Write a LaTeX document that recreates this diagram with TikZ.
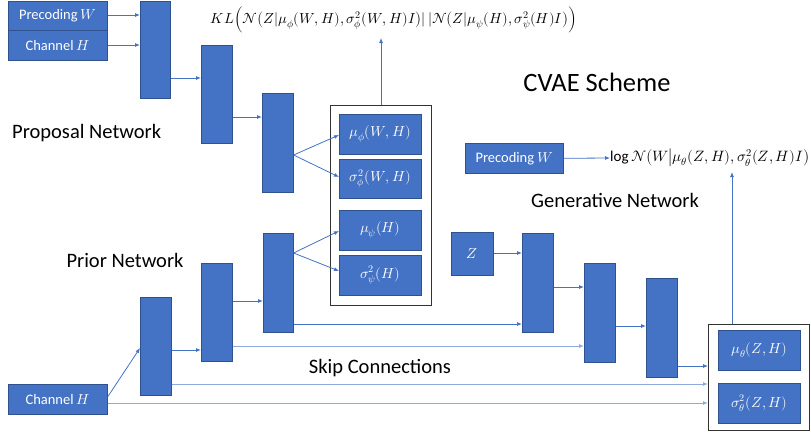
\documentclass[tikz,border=0pt]{standalone}
\usepackage{amsmath}
\usepackage{unicode-math}
\setmainfont{Carlito}
\setmathfont{Latin Modern Math}
\usetikzlibrary{arrows.meta,calc}
\definecolor{blu}{HTML}{4472C4}
\definecolor{bdr}{HTML}{2F528F}
\definecolor{lineb}{HTML}{4472C4}
\definecolor{lightb}{HTML}{8FAADC}
\begin{document}
\begin{tikzpicture}[x=1pt,y=-1pt,
  blk/.style={draw=bdr, fill=blu, line width=0.6pt, inner sep=0pt, anchor=north west, text=white, font=\fontsize{14.5}{16}\selectfont},
  outer/.style={draw=black!80, line width=1.1pt, inner sep=0pt, anchor=north west},
  arr/.style={draw=lineb, line width=0.8pt, -{Latex[length=5pt,width=4pt]}},
  skip/.style={draw=lightb, line width=1pt, -{Latex[length=5pt,width=4pt]}},
  lbl/.style={font=\fontsize{20.5}{24}\selectfont, inner sep=0pt},
  frm/.style={font=\fontsize{14.5}{17}\selectfont, inner sep=0pt}
]
\useasboundingbox (0,0) rectangle (811,431);

% boxes
\node[blk, minimum width=99pt, minimum height=29pt] (pw) at (8,1) {Precoding $W$};
\node[blk, minimum width=99pt, minimum height=30pt] (ch1) at (8,30) {Channel $H$};
\node[blk, minimum width=30pt, minimum height=97pt] (p1) at (140,1) {};
\node[blk, minimum width=31pt, minimum height=98pt] (p2) at (201,45) {};
\node[blk, minimum width=31pt, minimum height=99pt] (p3) at (262,93) {};
\node[outer, minimum width=101pt, minimum height=200pt] (oa) at (330,105) {};
\node[blk, minimum width=82pt, minimum height=40pt] (muphi) at (339,114) {$\mu_{\phi}(W,H)$};
\node[blk, minimum width=82pt, minimum height=39pt] (sgphi) at (339,159) {$\sigma^2_{\phi}(W,H)$};
\node[blk, minimum width=82pt, minimum height=40pt] (mupsi) at (339,210) {$\mu_{\psi}(H)$};
\node[blk, minimum width=82pt, minimum height=40pt] (sgpsi) at (339,255) {$\sigma^2_{\psi}(H)$};
\node[blk, minimum width=31pt, minimum height=98pt] (q0) at (140,297) {};
\node[blk, minimum width=31pt, minimum height=98pt] (q1) at (201,263) {};
\node[blk, minimum width=30pt, minimum height=99pt] (q2) at (263,233) {};
\node[blk, minimum width=99pt, minimum height=30pt] (ch2) at (8,384) {Channel $H$};
\node[blk, minimum width=42pt, minimum height=43pt] (z) at (451,232) {$Z$};
\node[blk, minimum width=31pt, minimum height=99pt] (g1) at (522,233) {};
\node[blk, minimum width=31pt, minimum height=99pt] (g2) at (584,263) {};
\node[blk, minimum width=31pt, minimum height=99pt] (g3) at (646,278) {};
\node[outer, minimum width=101pt, minimum height=106pt] (ob) at (708,324) {};
\node[blk, minimum width=82pt, minimum height=40pt] (muth) at (718,330) {$\mu_{\theta}(Z,H)$};
\node[blk, minimum width=82pt, minimum height=40pt] (sgth) at (718,383) {$\sigma^2_{\theta}(Z,H)$};
\node[blk, minimum width=98pt, minimum height=30pt] (pw2) at (465,143) {Precoding $W$};

% formulas
\node[frm] (kl) at (394,20) {$KL\Bigl(\mathcal{N}\bigl(Z|\mu_{\phi}(W,H),\sigma^2_{\phi}(W,H)I\bigr)|\,|\mathcal{N}\bigl(Z|\mu_{\psi}(H),\sigma^2_{\psi}(H)I\bigr)\Bigr)$};
\node[frm, font=\fontsize{15}{18}\selectfont, anchor=west] (lg) at (610,158) {$\log\mathcal{N}\bigl(W\big|\mu_{\theta}(Z,H),\sigma^2_{\theta}(Z,H)I\bigr)$};

% labels
\node[font=\fontsize{26.5}{30}\selectfont, inner sep=0pt] (title) at (597,82) {CVAE Scheme};
\node[lbl, anchor=west] (lprop) at (12,133) {Proposal Network};
\node[lbl] (lprior) at (125,260) {Prior Network};
\node[lbl] (lgen) at (615,200) {Generative Network};
\node[lbl] (lskip) at (380,368) {Skip Connections};

% connectors
\draw[arr] (pw.east |- 0,15) -- (p1.west |- 0,15);
\draw[arr] (ch1.east |- 0,45) -- (p1.west |- 0,45);
\draw[arr] (p1.east |- 0,78) -- (p2.west |- 0,78);
\draw[arr] (p2.east |- 0,117) -- (p3.west |- 0,117);
\draw[arr] (p3.east |- 0,155) -- (muphi.west |- 0,135);
\draw[arr] (p3.east |- 0,155) -- (sgphi.west |- 0,177);
\draw[arr] (q2.east |- 0,253) -- (mupsi.west |- 0,231);
\draw[arr] (q2.east |- 0,253) -- (sgpsi.west |- 0,271);
\draw[arr] (q1.east |- 0,301) -- (q2.west |- 0,301);
\draw[arr] (q0.east |- 0,350) -- (q1.west |- 0,350);
\draw[arr] (ch2.east |- 0,397) -- (q0.west |- 0,348);
\draw[skip] (ch2.east |- 0,403) -- (ob.west |- 0,403);
\draw[skip] (q0.east |- 0,384) -- (ob.west |- 0,384);
\draw[skip] (q1.east |- 0,346) -- (g2.west |- 0,346);
\draw[arr] (q2.east |- 0,324) -- (g1.west |- 0,324);
\draw[arr] (z.east |- 0,253) -- (g1.west |- 0,253);
\draw[arr] (g1.east |- 0,287) -- (g2.west |- 0,287);
\draw[arr] (g2.east |- 0,326) -- (g3.west |- 0,326);
\draw[arr] (g3.east |- 0,366) -- (ob.west |- 0,366);
\draw[arr] (oa.north |- 0,105) -- (oa.north |- 0,38);
\draw[arr] (pw2.east) -- (lg.west);
\coordinate (obt) at ($(ob.north west)+(24,0)$);
\draw[arr] (obt) -- (obt |- 0,172);
\end{tikzpicture}
\end{document}
